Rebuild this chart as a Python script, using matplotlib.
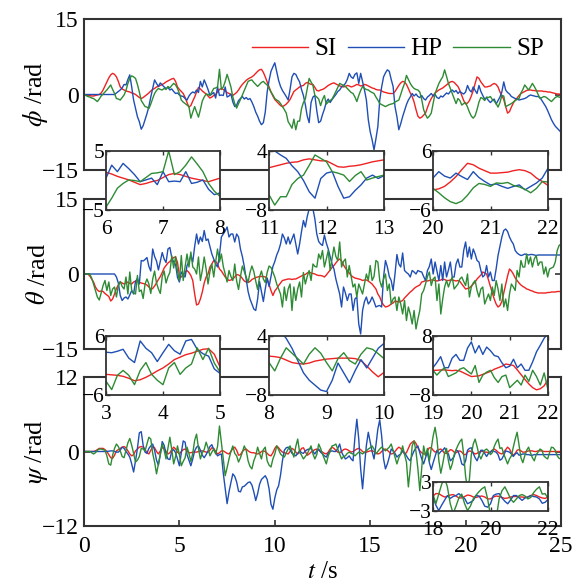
import numpy as np
import matplotlib
matplotlib.use("Agg")
import matplotlib.pyplot as plt

plt.rcParams['font.family'] = ['Liberation Serif', 'DejaVu Serif']
plt.rcParams['mathtext.fontset'] = 'stix'

# sampling times, 0.1 s step
t = np.linspace(0, 25, 251)

# ---- roll angle phi (rad) ----
phi_si = [
    0.0, -0.1, -0.1, -0.2, -0.3, -0.3, -0.2, -0.1, 0.0, 0.3,
    0.9, 1.7, 2.5, 3.3, 3.9, 4.2, 4.0, 3.5, 2.6, 1.5,
    1.1, 0.9, 0.7, 0.6, 0.5, 0.3, 0.2, 0.0, -0.3, -0.6,
    -0.8, -0.6, -0.3, 0.0, 0.3, 0.7, 1.0, 1.2, 1.5, 1.6,
    1.8, 2.0, 2.2, 2.5, 2.7, 2.9, 3.1, 3.2, 2.6, 1.5,
    1.0, 0.6, 0.2, -0.6, -1.6, -2.5, -2.2, -1.3, -0.5, 0.5,
    1.4, 1.1, 0.7, 0.4, 0.1, -0.3, -0.7, -0.5, -0.2, 0.0,
    0.5, 1.0, 1.2, 1.0, 0.7, 0.4, 0.2, 0.0, -0.2, 0.1,
    0.4, 0.9, 1.5, 2.0, 2.4, 2.8, 3.1, 3.3, 3.5, 3.8,
    4.2, 4.6, 4.9, 5.0, 4.4, 3.5, 2.5, 1.5, 0.5, -0.3,
    -1.0, -1.4, -1.8, -2.2, -2.4, -2.2, -1.9, -1.5, -1.0, -0.2,
    0.6, 0.9, 1.2, 1.5, 1.7, 1.8, 2.2, 2.4, 2.2, 2.0,
    2.0, 1.4, 0.8, 0.7, 0.9, 1.0, 1.2, 1.5, 1.8, 2.0,
    2.2, 2.3, 2.1, 1.9, 1.7, 1.6, 1.5, 1.6, 1.8, 1.7,
    1.5, 1.6, 1.8, 2.0, 1.9, 1.7, 1.8, 2.0, 1.9, 1.7,
    1.5, 1.3, 1.2, 1.0, 0.9, 0.9, 0.7, 0.5, 0.4, 0.3,
    0.2, 0.2, 0.2, 0.6, 1.2, 1.8, 2.3, 2.6, 2.5, 2.0,
    1.2, 0.3, -0.4, -1.5, -3.0, -4.3, -4.7, -4.5, -4.1, -3.7,
    -2.6, -1.6, -0.8, -0.2, 0.3, 0.6, 0.9, 1.1, 1.3, 1.6,
    1.9, 2.2, 2.5, 2.6, 2.4, 2.0, 1.6, 0.8, -0.2, -1.2,
    -1.9, -1.7, -1.2, -0.3, 0.8, 2.2, 3.5, 3.2, 2.5, 2.0,
    1.5, 1.5, 1.6, 1.7, 2.0, 2.2, 2.0, 1.5, 0.5, -0.2,
    -1.0, -2.4, -3.7, -3.4, -2.5, -1.7, -1.1, -0.7, -0.2, 0.2,
    0.4, 0.6, 0.8, 0.9, 0.9, 0.8, 0.8, 0.7, 0.7, 0.7,
    0.7, 0.6, 0.6, 0.5, 0.5, 0.4, 0.3, 0.2, 0.1, 0.1,
    0.0]
phi_hp = [
    0, 0, 0, 0, 0, 0, 0, 0, 0, 0,
    0, 0, 0, 0, 0, 0, 0, 0.3, 0.6, 0.9,
    1.3, 2.0, 1.9, 3.0, 3.9, 1.5, -1.1, -2.8, -4.4, -5.4,
    -6.9, -6.2, -5.0, -3.8, -2.4, -0.5, 1.2, 2.9, 2.2, 1.6,
    2.3, 1.9, 1.5, 1.2, 1.4, 0.9, 1.1, 0.6, 0.2, 0.3,
    -0.1, -0.3, -0.4, -0.8, -1.1, -0.3, 0.2, 0.5, 0.3, 0.9,
    0.4, 2.6, 1.5, 2.9, 2.0, 1.0, -0.2, 0.1, 0.4, -0.7,
    1.5, -0.2, -0.1, -0.2, 1.5, -0.5, -0.3, 0.1, -1.5, -2.4,
    -2.1, -1.2, -0.8, -0.4, -0.9, -0.6, -1.0, -0.8, -1.5, -2.4,
    -3.5, -4.3, -5.3, -6.0, -5.6, -3.5, 0.5, 2.8, 4.6, 5.5,
    6.3, 4.5, 2.8, 1.6, 0.8, 0.2, -0.4, -1.1, 1.0, 3.5,
    4.2, 4.0, 3.2, 2.5, 1.0, -0.2, -2.0, -4.3, -5.6, -1.6,
    -0.5, -0.2, -3.2, -5.6, -5.3, -4.0, -2.9, -1.5, -0.9, -1.6,
    -1.0, -0.5, 0.0, 0.6, 0.9, 1.5, 1.8, 2.2, 3.0, 4.2,
    3.5, 3.2, 4.0, 4.3, 2.2, 4.2, 2.5, 0.9, -1.1, -5.0,
    -7.4, -9.0, -11.0, -8.8, -6.4, -1.1, 1.5, 3.5, 4.3, 4.9,
    4.6, 3.0, 1.6, -2.4, -4.4, -7.0, -5.8, -4.4, -3.2, -2.0,
    -1.1, -0.5, 0.2, -0.3, 0.1, -0.4, -0.6, -0.2, -0.8, -1.1,
    -0.5, -0.2, 0.2, -0.3, 0.0, -0.6, -0.8, -0.3, -0.5, -0.1,
    0.3, 0.1, 0.6, 0.9, 0.5, 0.8, 0.2, 0.6, 0.3, 0.1,
    0.5, 1.8, 0.9, 0.5, 1.5, 0.8, 0.2, 1.8, 0.6, -0.2,
    -0.9, -0.7, -1.2, -1.6, -1.2, -0.9, -1.9, -1.2, -0.5, 0.5,
    2.5, 0.9, 0.4, 0.1, -0.4, -0.6, -0.8, -0.9, -1.1, -1.0,
    -0.9, -0.8, -0.6, -0.3, -0.1, -0.2, -0.3, -0.4, -0.4, -0.6,
    -1.2, -1.8, -2.4, -3.2, -4.1, -5.0, -5.7, -6.3, -6.7, -7.1,
    -7.5]
phi_sp = [
    0.0, -0.2, -0.4, -0.5, -0.7, -0.8, -1.1, -1.4, -0.9, -0.3,
    0.1, 0.5, 0.9, 1.4, 1.9, 1.0, 0.2, -0.8, -0.9, -1.1,
    -0.6, -0.1, 0.8, 2.2, 3.2, 3.7, 3.5, 3.2, 2.0, 0.5,
    -1.2, -1.8, -2.4, -2.5, -2.8, -1.9, -0.8, 0.2, 0.8, 1.2,
    1.0, 0.9, 1.2, 1.0, 1.6, 1.3, 1.8, 2.2, 1.9, 1.2,
    0.2, -1.1, -1.5, -1.8, -2.1, -2.4, -4.7, -3.5, -2.4, -3.5,
    -4.5, -3.0, -1.3, -0.5, 0.1, 0.0, -0.2, 0.5, 1.2, 1.3,
    1.5, 5.0, 1.0, 1.5, 2.6, 4.0, 2.8, 1.5, -0.5, -1.8,
    -2.7, -1.8, -1.0, -0.1, 0.8, 1.7, 2.6, 2.8, 2.9, 2.4,
    2.0, 1.6, 2.0, 2.4, 2.6, 2.2, 1.9, 1.2, 0.5, -0.1,
    -0.8, -1.1, -1.3, -1.8, -2.4, -3.0, -3.7, -5.4, -6.0, -6.7,
    -4.9, -7.0, -5.3, -5.3, -2.8, -1.6, -0.9, 1.1, 3.2, 2.5,
    1.8, -0.2, -0.5, -0.9, -2.2, -1.0, -0.2, -1.9, -1.5, -1.2,
    -0.9, -0.2, 0.6, 1.4, 2.2, 2.0, 1.8, 1.6, 1.2, 0.8,
    0.4, 0.2, -0.5, -1.4, -0.2, 0.8, 1.6, 1.2, 1.0, 0.9,
    0.6, 0.4, 0.2, -0.5, -1.1, -1.8, -2.0, -2.2, -2.4, -2.2,
    -2.0, -1.9, -1.8, -1.5, -1.3, -1.1, 0.0, 1.2, 2.2, 3.8,
    3.0, 2.2, 1.6, 1.2, 1.0, 0.9, 0.5, -1.0, -3.0, -4.0,
    -4.7, -4.3, -3.7, -1.8, 0.2, 1.2, 2.2, 2.9, 3.5, 4.9,
    3.6, 2.2, 1.2, 0.2, -0.8, -1.8, -0.8, -1.2, -2.1, -1.8,
    -1.6, -2.5, -3.5, -4.3, -4.7, -4.2, -3.0, -1.5, -0.6, -0.8,
    -1.2, -0.5, -0.6, -0.4, -1.0, -1.3, -1.8, -2.5, -1.6, -0.2,
    -0.3, -2.4, -2.2, -2.0, -1.8, -1.5, -1.2, -1.0, -0.8, 0.3,
    1.0, 1.9, 1.4, 0.9, 1.5, 2.2, 1.6, 0.9, 0.0, -0.8,
    -0.6, -0.4, -0.5, -0.8, -1.1, -1.4, -1.0, -0.6, -0.4, -0.5,
    -0.6]

# ---- pitch angle theta (rad) ----
theta_si = [
    0, 0, 0, -0.4, -1.0, -1.6, -2.6, -3.2, -3.5, -3.4,
    -3.5, -3.9, -4.2, -4.5, -5.4, -5.0, -4.0, -2.9, -2.2, -1.6,
    -1.8, -2.0, -1.8, -1.6, -1.9, -2.0, -1.6, -1.4, -1.3, -1.7,
    -1.8, -1.9, -2.0, -2.2, -2.6, -3.1, -2.9, -2.4, -1.8, -1.1,
    -0.5, 0.3, 1.2, 1.7, 2.2, 2.5, 2.9, 3.3, 3.4, 2.3,
    -0.3, -0.6, -0.2, 0.4, 0.7, 0.3, -0.3, -1.3, -4.0, -6.2,
    -6.0, -5.0, -3.6, -1.8, -0.6, 0.0, 1.4, 2.0, 2.7, 2.5,
    2.0, 1.0, 0.6, 0.0, -0.6, -1.0, -1.3, -1.2, -1.0, -0.6,
    -0.1, -0.2, -0.4, -0.9, -1.4, -1.6, -1.7, -1.5, -1.1, -0.9,
    -0.7, -0.6, -0.5, -0.5, -0.5, -0.6, -1.0, -2.1, -3.3, -4.3,
    -3.4, -2.9, -2.3, -1.8, -1.3, -1.2, -1.1, -1.0, -1.0, -1.1,
    -1.0, -1.0, -0.8, -0.6, -0.4, -0.2, -0.1, 0.2, 0.4, 0.2,
    0.1, 0.0, -0.2, -0.3, -0.3, -0.4, -0.6, -0.2, 0.3, 0.8,
    1.3, 1.7, 2.2, 2.7, 3.0, 2.6, 1.8, 1.2, 0.7, 0.2,
    -0.3, -0.6, -0.8, -0.9, -1.0, -1.1, -1.3, -1.2, -1.2, -1.4,
    -1.7, -2.0, -2.5, -3.0, -4.0, -4.6, -5.6, -6.2, -6.6, -6.5,
    -6.3, -6.0, -5.8, -5.4, -5.5, -5.6, -5.5, -5.3, -4.8, -4.4,
    -4.0, -3.6, -3.3, -2.9, -2.6, -2.4, -2.2, -1.6, -1.5, -1.3,
    -1.4, -1.3, -1.2, -1.2, -1.3, -1.4, -1.3, -1.2, -1.0, -1.1,
    -1.3, -1.3, -1.2, -1.2, -1.3, -1.4, -1.3, -1.5, -2.0, -2.5,
    -3.0, -2.9, -2.8, -2.4, -2.0, -1.6, -1.0, -0.6, -0.2, 0.4,
    0.2, 0.0, -1.2, -2.5, -3.8, -5.0, -6.0, -6.6, -6.3, -5.5,
    -3.8, -2.0, -0.4, 1.0, 0.6, 0.0, -0.8, -1.3, -1.8, -2.2,
    -2.5, -2.7, -3.0, -3.1, -3.3, -3.4, -3.6, -3.7, -3.8, -3.8,
    -3.8, -3.8, -3.8, -3.7, -3.7, -3.6, -3.6, -3.6, -3.5, -3.5,
    -3.5]
theta_hp = [
    0, 0, 0, 0, 0, 0, 0, 0, 0, 0,
    0, 0, 0, 0, 0, 0, 0, -0.6, -1.8, -4.3,
    -5.3, -4.8, -4.6, -5.0, -4.2, -3.3, -4.0, -1.5, -0.9, -2.0,
    2.7, 2.6, 2.9, 3.3, 1.5, 0.6, 5.0, 3.5, 2.6, 0.8,
    2.6, 4.3, 3.0, 2.3, 5.0, 5.3, 3.3, 2.4, 1.9, -0.7,
    -1.6, 0.4, -0.2, -0.6, 1.7, 2.5, 3.7, 2.4, 5.5, 8.0,
    6.0, 7.4, 6.5, 8.7, 6.7, 7.0, 5.5, 4.0, 3.0, 2.0,
    1.4, 3.7, 7.4, 8.0, 8.6, 9.4, 7.4, 8.0, 8.0, 6.4,
    8.0, 7.4, 5.0, 3.5, 1.5, -1.0, -3.5, -5.0, -6.0, -7.0,
    -7.3, -5.0, -1.5, -3.5, -5.5, -3.0, -0.8, -2.5, -0.5, 1.5,
    2.5, 3.8, 4.7, 6.0, 8.0, 7.2, 6.0, 7.4, 6.0, 7.0,
    8.0, 6.0, 4.0, 6.0, 8.5, 10.7, 9.4, 11.5, 13.0, 15.5,
    13.0, 11.0, 8.0, 6.5, 6.0, 5.7, 7.8, 6.2, 5.0, 3.5,
    2.0, 1.0, -1.0, -2.5, -4.0, -6.6, -2.6, -3.8, -5.3, -4.0,
    -4.0, -7.3, -5.0, -4.6, -10.0, -12.0, -7.3, -5.5, -4.6, -6.0,
    -5.5, -4.6, -5.5, -6.6, -6.4, -6.3, -6.6, -0.6, 2.7, 1.4,
    -0.5, -1.3, -3.3, 0.0, 3.9, 2.0, 1.4, 4.2, 0.7, 0.3,
    0.0, -0.6, 0.7, 0.4, 0.0, 0.7, 0.5, 0.4, -0.5, -1.3,
    0.7, 1.5, 3.0, 0.0, 2.4, 0.5, -1.3, 1.7, -1.3, 2.4,
    -0.6, 0.8, 2.4, -0.6, -0.6, 2.0, 3.0, 1.4, 1.4, 4.7,
    6.4, 3.4, 5.4, 3.0, 5.0, 4.0, 2.7, 2.4, 0.7, -0.6,
    -0.2, 1.7, -0.6, 0.4, -1.3, -1.3, 1.0, 3.7, 5.5, 7.4,
    8.7, 9.0, 8.5, 7.4, 6.6, 6.0, 4.7, 4.2, 3.9, 3.7,
    3.8, 4.0, 3.9, 3.8, 3.9, 3.9, 3.8, 3.7, 3.8, 3.8,
    3.8, 3.8, 3.8, 3.8, 3.8, 3.8, 3.8, 3.8, 3.8, 3.8,
    3.8]
theta_sp = [
    0, 0, 0, 0, -0.8, -2.0, -3.3, -4.6, -5.2, -3.8,
    -2.3, -1.3, -3.3, -1.6, -4.3, -3.0, -2.6, -4.6, -2.3, -1.5,
    -2.5, -3.0, -0.6, -4.0, 0.4, -3.3, -3.8, -4.0, -0.3, -3.5,
    -3.2, -4.9, -2.0, -1.0, -2.0, -3.9, -1.0, 0.6, -1.8, -3.0,
    -3.9, -0.5, 0.6, -1.8, -0.5, 0.3, 3.6, 1.2, 3.5, 0.5,
    -1.3, 3.7, -1.3, 1.5, 4.0, 1.4, 4.4, 1.4, 1.0, 0.0,
    3.4, -1.3, 0.7, 3.4, 1.0, -2.0, 0.5, 2.0, -0.6, 2.5,
    5.0, 2.4, 4.0, 1.5, 0.0, -1.6, 0.7, -0.5, -1.3, 2.0,
    -1.4, -3.1, -0.5, 1.6, 0.5, -0.6, -1.7, 0.3, 1.6, 0.5,
    -1.4, -3.1, -0.6, 0.6, -1.0, -1.7, 0.3, 1.6, 1.3, 0.4,
    -0.6, -2.0, -3.0, -4.0, -6.6, -2.6, -5.3, -3.0, -2.0, -7.3,
    -2.6, -5.3, -3.0, -1.6, -4.6, 0.3, -2.0, -0.5, 0.7, -1.3,
    2.0, 1.5, 1.4, 4.0, 3.0, 4.7, 1.4, 3.0, 4.7, 0.7,
    3.0, 5.4, 3.5, 2.7, 6.4, 1.4, 2.5, 3.0, -0.6, 1.7,
    -0.5, -2.6, -2.0, -4.6, -2.0, -3.0, -4.0, -2.0, 0.0, -1.3,
    1.7, -1.3, -0.5, 2.7, 2.4, -1.3, -2.6, -1.0, 0.0, -3.3,
    -2.0, -6.0, -5.0, -4.6, -7.3, -4.6, -6.0, -8.0, -5.3, -9.3,
    -6.6, -8.0, -10.0, -7.3, -11.0, -9.0, -7.3, -4.0, -3.3, -2.0,
    -0.5, 0.4, -2.3, -1.0, -0.6, -5.3, -2.0, -8.0, -5.0, -2.6,
    -1.3, -2.6, -1.5, -0.6, -3.0, -2.5, -2.0, -1.0, -0.6, -1.5,
    -2.3, 0.0, -4.6, -2.6, -1.8, -1.3, -3.3, -4.6, -3.0, -2.6,
    -6.0, -5.0, -4.0, -5.3, -2.6, -4.3, -1.3, -3.0, -5.3, -2.0,
    -6.6, -5.0, -7.3, -4.0, -2.0, -2.6, -3.3, 0.7, -0.6, 2.7,
    1.4, 1.4, 4.0, 2.0, 3.4, 1.4, 3.0, 3.7, 1.7, 2.4,
    2.4, 0.0, 1.4, -0.6, 1.0, 1.2, 1.4, 2.4, 4.7, 5.7,
    6.0]

# ---- yaw angle psi (rad) ----
psi_si = [
    0, 0, 0, 0, 0, 0, 0.1, 0.3, 0.5, 0.5,
    0.5, 0.3, 0.0, -0.5, -1.0, -1.1, -0.6, 0.1, 0.3, 0.5,
    0.7, 0.8, 0.6, 0.1, -0.4, -0.7, -0.5, 0.1, 0.4, 0.7,
    0.8, 0.7, 0.3, -0.2, -0.4, 0.2, 0.8, 0.6, 0.0, -0.4,
    0.1, 0.6, 0.5, 0.0, -0.4, -0.2, 0.3, 0.7, 0.4, -0.1,
    -0.4, 0.0, 0.3, 0.4, 0.1, -0.2, -0.2, -0.1, -0.1, -0.1,
    0.0, 0.1, 0.1, 0.0, -0.1, -0.1, 0.2, 0.6, 0.5, 0.0,
    -0.4, -0.2, 0.1, 0.1, -0.1, -0.3, -0.4, 0.0, 0.5, 0.7,
    0.2, -0.6, -0.5, 0.0, 0.3, 0.4, 0.1, -0.1, -0.2, -0.2,
    -0.3, -0.4, -0.3, 0.0, 0.1, 0.0, -0.3, -0.6, -0.7, -0.2,
    0.5, 0.9, 0.6, 0.2, -0.1, -0.2, -0.3, -0.4, 0.0, 0.5,
    0.3, -0.1, -0.4, -0.1, 0.5, 0.6, 0.0, -0.6, -0.4, -0.1,
    0.1, 0.3, 0.4, 0.2, 0.0, -0.1, -0.3, -0.4, -0.1, 0.4,
    0.7, 0.5, 0.2, -0.1, -0.2, 0.0, 0.3, 0.4, 0.3, 0.1,
    -0.1, 0.0, 0.2, 0.4, 0.5, 0.3, 0.0, -0.2, -0.1, 0.0,
    0.1, 0.1, 0.0, -0.2, -0.4, -0.3, 0.0, 0.3, 0.4, 0.2,
    -0.1, -0.4, -0.3, 0.0, 0.4, 0.7, 0.5, 0.0, -0.4, -0.2,
    0.5, 1.2, 1.5, 1.7, 1.3, 0.6, 0.1, -0.2, -0.4, -0.4,
    0.1, 0.6, 0.6, 0.2, -0.1, 0.0, 0.3, 0.4, 0.1, -0.3,
    -0.3, 0.0, 0.3, 0.2, -0.1, -0.2, 0.0, 0.1, -0.1, -0.5,
    -0.5, -0.1, 0.1, 0.0, -0.2, -0.4, -0.3, -0.1, 0.0, 0.0,
    -0.1, -0.1, -0.2, -0.1, 0.2, 0.4, 0.2, -0.1, -0.3, -0.4,
    -0.1, 0.3, 0.7, 0.4, -0.2, -0.6, -0.3, 0.2, 0.3, 0.1,
    -0.1, -0.1, 0.0, 0.1, 0.1, 0.1, 0.0, 0.0, 0.1, 0.1,
    0.1, 0.0, 0.0, 0.0, 0.0, 0.0, 0.0, 0.0, 0.0, 0.0,
    0.0]
psi_hp = [
    0, 0, 0, 0, 0, 0, 0, 0, 0, 0,
    0, 0, 0, 0.05, 0.1, 0.1, 0.0, -0.1, -0.1, 0.2,
    0.7, 0.5, 0.0, -0.4, -0.9, -2.0, -3.3, -1.5, 0.5, 3.0,
    3.2, 1.0, -0.1, -0.3, 0.5, 0.9, 1.2, 0.2, -1.4, -2.2,
    -0.5, 1.6, 1.0, -0.4, -1.2, -1.3, 0.1, 0.3, -0.2, -1.2,
    -2.3, -0.2, 1.7, 1.5, -0.5, -1.4, -2.3, -1.2, 0.1, 0.7,
    0.9, 0.2, -0.6, -1.0, -0.5, 0.1, 0.8, 1.1, 0.3, -0.2,
    -0.7, -0.5, -0.4, -3.5, -6.0, -8.4, -6.5, -5.0, -3.6, -4.0,
    -4.9, -6.4, -6.5, -5.7, -5.6, -5.3, -5.0, -4.9, -5.4, -6.5,
    -7.9, -6.8, -5.3, -4.5, -4.2, -3.9, -4.5, -6.0, -8.5, -9.3,
    -7.5, -6.2, -5.5, -3.8, -1.5, 0.2, 0.6, 0.7, 0.3, -0.3,
    -0.5, -0.7, -0.3, 0.1, -0.2, -0.3, 0.1, 0.3, 0.4, 0.5,
    0.0, -0.4, 0.1, 0.4, -0.1, -0.4, -0.7, -0.9, -0.3, 0.0,
    0.1, 0.0, 0.0, 0.5, 1.2, -0.1, -0.7, -1.2, -1.0, -0.7,
    -1.2, -1.5, 2.3, 5.2, 2.0, -2.8, -6.0, -2.3, 1.0, 3.1,
    1.5, 0.0, -1.2, 1.0, 3.6, 5.1, 2.5, -1.2, -2.8, -2.0,
    -0.9, 0.4, 0.1, -0.3, -0.9, -0.6, -0.4, 0.1, -0.2, -0.7,
    -1.2, -1.5, -0.6, 0.1, 0.6, 0.9, -0.2, -1.2, -2.0, -1.0,
    -0.1, -1.8, -2.9, -1.8, -0.8, 0.2, -0.4, 0.0, 0.2, 0.6,
    0.0, -0.4, -1.5, -1.2, -0.8, 0.2, 0.1, -0.8, -2.0, -2.2,
    -1.5, 0.2, 0.5, 0.6, -0.3, -1.0, -1.5, -0.7, 0.2, 0.2,
    -0.3, -0.8, -0.3, -0.1, 0.2, 0.0, -0.1, -0.5, -1.4, -1.2,
    -0.6, 0.1, 0.0, -0.1, -0.4, -0.8, -0.4, -0.2, -0.6, -0.5,
    -0.4, -0.4, -0.5, -0.5, -0.6, -0.6, -0.5, -0.5, -0.5, -0.5,
    -0.5, -0.5, -0.5, -0.5, -0.5, -0.5, -0.5, -0.5, -0.5, -0.5,
    -0.5]
psi_sp = [
    0, 0, 0, 0, -0.2, -0.4, -0.2, 0.2, 0.4, 0.4,
    0.3, 0.2, -0.7, -2.0, -2.2, -0.6, 0.5, 1.2, 0.8, 0.1,
    -0.8, -1.0, 0.2, 1.4, 2.1, 1.0, -0.3, -1.7, -1.4, -0.8,
    0.5, 0.4, 0.1, 1.2, 2.3, 2.0, -0.3, -1.7, -3.6, -2.0,
    -0.4, 1.2, 0.2, -1.2, 0.5, 2.3, 0.3, -2.0, -0.8, 0.9,
    -0.5, -2.3, -1.6, -1.0, 0.7, -0.3, -1.6, -0.3, 1.8, 2.8,
    0.5, -1.2, -0.2, 0.3, 1.5, 0.6, -0.7, -0.1, 0.4, -0.4,
    0.8, 4.1, 1.5, -1.2, -3.9, -2.6, -1.2, 0.0, 0.9, -0.3,
    -0.7, -1.7, -1.0, -0.1, 0.9, 0.2, -1.5, -2.4, -2.8, -1.5,
    -0.7, 0.7, -0.3, -1.2, 0.3, 0.7, -1.5, -2.2, -2.5, -1.2,
    -0.4, 0.9, 0.3, -0.4, -0.7, -0.9, -0.2, 0.4, 0.9, 0.0,
    -0.9, 0.8, 2.0, -0.1, -0.6, -1.2, -0.8, -0.4, 0.3, 0.9,
    -0.4, -1.2, -0.5, 1.2, 0.5, -0.4, -1.2, -2.0, -0.7, 0.0,
    0.9, 1.0, 1.2, 0.4, -0.4, -1.2, -0.8, -0.7, -0.3, -0.1,
    -0.3, -0.4, -0.7, -0.4, -0.1, -0.2, -0.4, -0.1, 0.1, 0.4,
    0.6, 0.9, 0.4, -0.4, 0.0, 0.4, 0.7, 0.4, 0.1, 0.4,
    0.7, 1.2, 0.2, -0.9, -2.0, -1.0, -0.4, 0.9, -0.5, -1.7,
    -5.7, -2.8, 0.9, 1.7, 0.0, -2.8, -6.3, -2.8, 0.9, -0.7,
    0.5, -1.5, 0.5, 2.5, 3.9, 2.0, -1.5, -3.5, -2.0, -0.3,
    0.5, -1.5, -2.9, -2.0, -0.5, 0.3, 1.0, 1.6, 2.0, -0.5,
    -4.0, -6.0, -4.5, -0.5, 1.2, 2.0, 0.8, -0.5, -1.2, -0.5,
    0.2, 0.4, 0.1, -0.5, -0.2, 0.8, 1.5, 2.0, 0.5, 0.6,
    -0.4, -1.2, -2.0, -1.2, -0.7, 0.7, 2.0, 3.1, 1.0, -1.0,
    -1.8, -0.7, 0.2, 0.7, -0.2, -1.0, -1.5, -0.5, -0.1, 0.4,
    0.2, -0.7, -1.0, -1.2, -0.2, 0.7, 0.6, 0.2, -0.7, -1.1,
    -1.2]

labels = ['SI', 'HP', 'SP']
colors = ['#ee2222', '#1f4fb4', '#2e8b34']

panels = [
    (r'$\phi$ /rad', [phi_si, phi_hp, phi_sp], 15, [-15, 0, 15]),
    (r'$\theta$ /rad', [theta_si, theta_hp, theta_sp], 15, [-15, 0, 15]),
    (r'$\psi$ /rad', [psi_si, psi_hp, psi_sp], 12, [-12, 0, 12]),
]
# (x0, x1, xticks, y0, y1) for each zoomed window
zooms = [
    [(6, 8, [6, 7, 8], -5, 5), (11, 13, [11, 12, 13], -8, 4), (20, 22, [20, 21, 22], -6, 6)],
    [(3, 5, [3, 4, 5], -6, 6), (8, 10, [8, 9, 10], -8, 4), (19, 22, [19, 20, 21, 22], -8, 8)],
    [(18, 22, [18, 20, 22], -3, 3)],
]

W, H = 584, 585
spine_col = '#333333'


def px_rect(x0, y0, x1, y1):
    # pixel box (top-left origin) -> figure fraction rect
    return [x0 / W, 1 - y1 / H, (x1 - x0) / W, (y1 - y0) / H]


def style_inset(ins, win):
    a, b, xt, lo, hi = win
    ins.set_xlim(a, b)
    ins.set_ylim(lo, hi)
    ins.set_xticks(xt)
    ins.set_yticks([lo, hi])
    ins.tick_params(direction='in', length=3, width=1.0, labelsize=15.5,
                    top=True, color=spine_col, pad=1)
    ins.tick_params(axis='x', pad=7)
    for s in ins.spines.values():
        s.set_linewidth(1.3)
        s.set_color(spine_col)


fig = plt.figure(figsize=(W / 100, H / 100), dpi=100)

main_rows = [(19, 170), (199, 349), (377, 526)]
axes = []
for (top, bot), (ylab, series, lim, yt) in zip(main_rows, panels):
    ax = fig.add_axes(px_rect(84, top, 561, bot))
    for y, c, lab in zip(series, colors, labels):
        ax.plot(t, y, color=c, lw=1.0, label=lab)
    ax.set_xlim(0, 25)
    ax.set_ylim(-lim, lim)
    ax.set_yticks(yt)
    ax.set_xticks([0, 5, 10, 15, 20, 25])
    ax.tick_params(direction='in', length=4, width=1.2, labelsize=17,
                   right=True, color=spine_col, pad=4)
    ax.tick_params(axis='x', pad=7)
    ax.set_ylabel(ylab, fontsize=19)
    ax.yaxis.set_label_coords(-0.072, 0.5)
    for s in ax.spines.values():
        s.set_linewidth(1.5)
        s.set_color(spine_col)
    axes.append(ax)

for ax in axes[:2]:
    ax.tick_params(labelbottom=False)
axes[2].set_xlabel(r'$t$ /s', fontsize=18, labelpad=3)

axes[0].legend(loc='center right', bbox_to_anchor=(0.99, 0.80), ncol=3,
               frameon=False, fontsize=18, handlelength=2.25,
               handletextpad=0.25, columnspacing=0.45, borderpad=0)

# zoomed windows, placed after the main axes so they sit on top
inset_rows = [(151, 210), (336, 395)]
inset_cols = [(106, 220), (269, 384), (433, 548)]
for p in range(2):
    top, bot = inset_rows[p]
    for (x0, x1), win in zip(inset_cols, zooms[p]):
        ins = fig.add_axes(px_rect(x0, top, x1, bot))
        for y, c in zip(panels[p][1], colors):
            ins.plot(t, y, color=c, lw=1.0)
        style_inset(ins, win)

ins = fig.add_axes(px_rect(433, 482, 548, 511))
for y, c in zip(panels[2][1], colors):
    ins.plot(t, y, color=c, lw=1.0)
style_inset(ins, zooms[2][0])

fig.savefig('out.png', dpi=100)
